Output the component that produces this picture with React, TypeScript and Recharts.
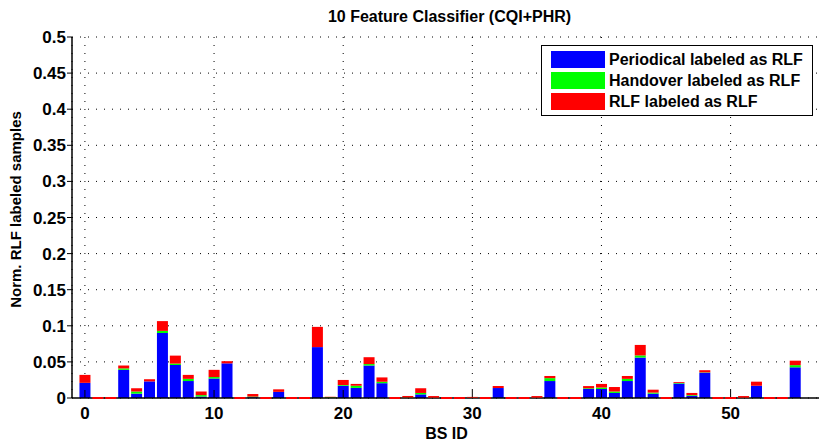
import React from 'react';
import { BarChart, Bar, XAxis, YAxis, CartesianGrid, Legend, Label } from 'recharts';

const bsIds = [
  0, 1, 2, 3, 4, 5, 6, 7, 8, 9, 10, 11, 12, 13, 14, 15, 16, 17, 18, 19,
  20, 21, 22, 23, 24, 25, 26, 27, 28, 29, 30, 31, 32, 33, 34, 35, 36, 37, 38, 39,
  40, 41, 42, 43, 44, 45, 46, 47, 48, 49, 50, 51, 52, 53, 54, 55,
];

const periodical = [
  0.021, 0, 0, 0.039, 0.006, 0.023, 0.09, 0.0457, 0.0235, 0.002,
  0.027, 0.048, 0, 0.001, 0, 0.0085, 0, 0, 0.0705, 0,
  0.017, 0.014, 0.045, 0.0205, 0, 0, 0.005, 0, 0, 0,
  0, 0, 0.0138, 0, 0, 0, 0.0235, 0, 0, 0.0125,
  0.0125, 0.007, 0.0235, 0.056, 0.006, 0, 0.02, 0.003, 0.035, 0,
  0, 0, 0.017, 0, 0, 0.0425,
];

const handover = [
  0, 0, 0, 0.002, 0.003, 0, 0.003, 0.002, 0.003, 0.002,
  0.002, 0, 0, 0.001, 0, 0, 0, 0, 0, 0.0012,
  0.001, 0.003, 0.002, 0.002, 0, 0.0008, 0.002, 0.0005, 0, 0,
  0.0005, 0, 0, 0, 0, 0.0005, 0.004, 0, 0, 0.001,
  0.002, 0.002, 0.003, 0.003, 0.0015, 0, 0.0008, 0.001, 0.0005, 0,
  0, 0.0005, 0, 0, 0, 0.003,
];

const rlf = [
  0.011, 0, 0, 0.004, 0.0045, 0.003, 0.0135, 0.011, 0.0055, 0.005,
  0.01, 0.003, 0, 0.0035, 0, 0.0035, 0, 0, 0.028, 0.0005,
  0.007, 0.0025, 0.0095, 0.006, 0, 0.002, 0.0065, 0.0022, 0, 0,
  0.001, 0, 0.0028, 0, 0, 0.0022, 0.003, 0, 0, 0.003,
  0.005, 0.0062, 0.004, 0.0145, 0.004, 0, 0.0012, 0.003, 0.003, 0,
  0, 0.0022, 0.0056, 0, 0, 0.0062,
];

const xTicks = [0, 10, 20, 30, 40, 50];
const yTicks = [0, 0.05, 0.1, 0.15, 0.2, 0.25, 0.3, 0.35, 0.4, 0.45, 0.5];
const seriesNames = ['Periodical labeled as RLF', 'Handover labeled as RLF', 'RLF labeled as RLF'];
const seriesColors = ['#0000ff', '#00ff00', '#ff0000'];

const data = bsIds.map((id, i) => ({
  id,
  periodical: periodical[i],
  handover: handover[i],
  rlf: rlf[i],
}));

const FONT = '"Liberation Sans", Arial, Helvetica, sans-serif';

// zero bars show up as a short red segment on the baseline (matlab look)
const RlfShape = (props: any) => {
  const { x, y, width, height, payload, fill } = props;
  const total = payload.periodical + payload.handover + payload.rlf;
  if (total === 0) {
    return <line x1={x} x2={x + width} y1={y} y2={y} stroke={fill} strokeWidth={2} />;
  }
  return <rect x={x} y={y} width={width} height={height} fill={fill} />;
};

const YLabel = (props: any) => {
  const vb = props.viewBox || { x: 0, y: 37, width: 72, height: 361 };
  const cx = 15;
  const cy = vb.y + vb.height / 2 - 8;
  return (
    <text
      x={cx}
      y={cy}
      transform={`rotate(-90, ${cx}, ${cy})`}
      textAnchor="middle"
      dominantBaseline="central"
      fill="#000"
      fontSize={15}
      fontWeight="bold"
      fontFamily={FONT}
    >
      Norm. RLF labeled samples
    </text>
  );
};

const renderLegend = () => (
  <div
    style={{
      border: '1.5px solid #000',
      background: '#fff',
      padding: '3px 6px 3px 9px',
      boxSizing: 'border-box',
      width: 272,
      height: 71,
      fontFamily: FONT,
    }}
  >
    {seriesNames.map((name, i) => (
      <div key={name} style={{ display: 'flex', alignItems: 'center', height: 21 }}>
        <span style={{ width: 54, height: 17, background: seriesColors[i], marginRight: 4, flex: 'none' }} />
        <span style={{ fontSize: 16, fontWeight: 'bold', color: '#000', whiteSpace: 'nowrap' }}>{name}</span>
      </div>
    ))}
  </div>
);

export default function App() {
  return (
    <div style={{ width: 819, height: 442, overflow: 'hidden', background: '#fff', position: 'relative' }}>
      <style>{'body{margin:0}'}</style>
      <div
        style={{
          position: 'absolute',
          top: 8,
          left: 76,
          width: 747,
          textAlign: 'center',
          fontFamily: FONT,
          fontWeight: 'bold',
          fontSize: 16,
          color: '#000',
        }}
      >
        10 Feature Classifier (CQI+PHR)
      </div>
      <BarChart
        width={821}
        height={442}
        data={data}
        margin={{ top: 37, right: 0, bottom: 0, left: 0 }}
        barSize={11}
        style={{ fontFamily: FONT }}
      >
        <CartesianGrid stroke="#000" strokeDasharray="1 7" />
        <XAxis
          dataKey="id"
          type="number"
          domain={[-1, 57]}
          ticks={xTicks}
          height={44}
          tickSize={-8}
          tickMargin={17}
          axisLine={{ stroke: '#000', strokeWidth: 1.5 }}
          tickLine={{ stroke: '#000' }}
          tick={{ fill: '#000', fontSize: 17, fontWeight: 'bold' }}
        >
          <Label value="BS ID" position="insideBottom" offset={3} fill="#000" fontSize={16} fontWeight="bold" />
        </XAxis>
        <XAxis
          xAxisId="top"
          orientation="top"
          type="number"
          domain={[-1, 57]}
          ticks={xTicks}
          height={0}
          tickSize={-6}
          tick={false}
          axisLine={{ stroke: '#000', strokeWidth: 1.5 }}
          tickLine={{ stroke: '#000' }}
        />
        <YAxis
          type="number"
          domain={[0, 0.5]}
          ticks={yTicks}
          width={72}
          tickSize={5}
          tickMargin={1}
          axisLine={{ stroke: '#000', strokeWidth: 1.5 }}
          tickLine={{ stroke: '#000' }}
          tick={{ fill: '#000', fontSize: 17, fontWeight: 'bold' }}
        >
          <Label content={YLabel} />
        </YAxis>
        <YAxis
          yAxisId="right"
          orientation="right"
          type="number"
          domain={[0, 0.5]}
          ticks={yTicks}
          width={0}
          tickSize={-6}
          tick={false}
          axisLine={{ stroke: '#000', strokeWidth: 1.5 }}
          tickLine={{ stroke: '#000' }}
        />
        <Legend
          layout="horizontal"
          align="center"
          verticalAlign="middle"
          content={renderLegend}
          wrapperStyle={{ left: 541, top: 45, width: 272, height: 71 }}
        />
        <Bar dataKey="periodical" stackId="a" name={seriesNames[0]} fill={seriesColors[0]} isAnimationActive={false} />
        <Bar dataKey="handover" stackId="a" name={seriesNames[1]} fill={seriesColors[1]} isAnimationActive={false} />
        <Bar
          dataKey="rlf"
          stackId="a"
          name={seriesNames[2]}
          fill={seriesColors[2]}
          shape={RlfShape}
          zIndex={700}
          isAnimationActive={false}
        />
      </BarChart>
    </div>
  );
}
